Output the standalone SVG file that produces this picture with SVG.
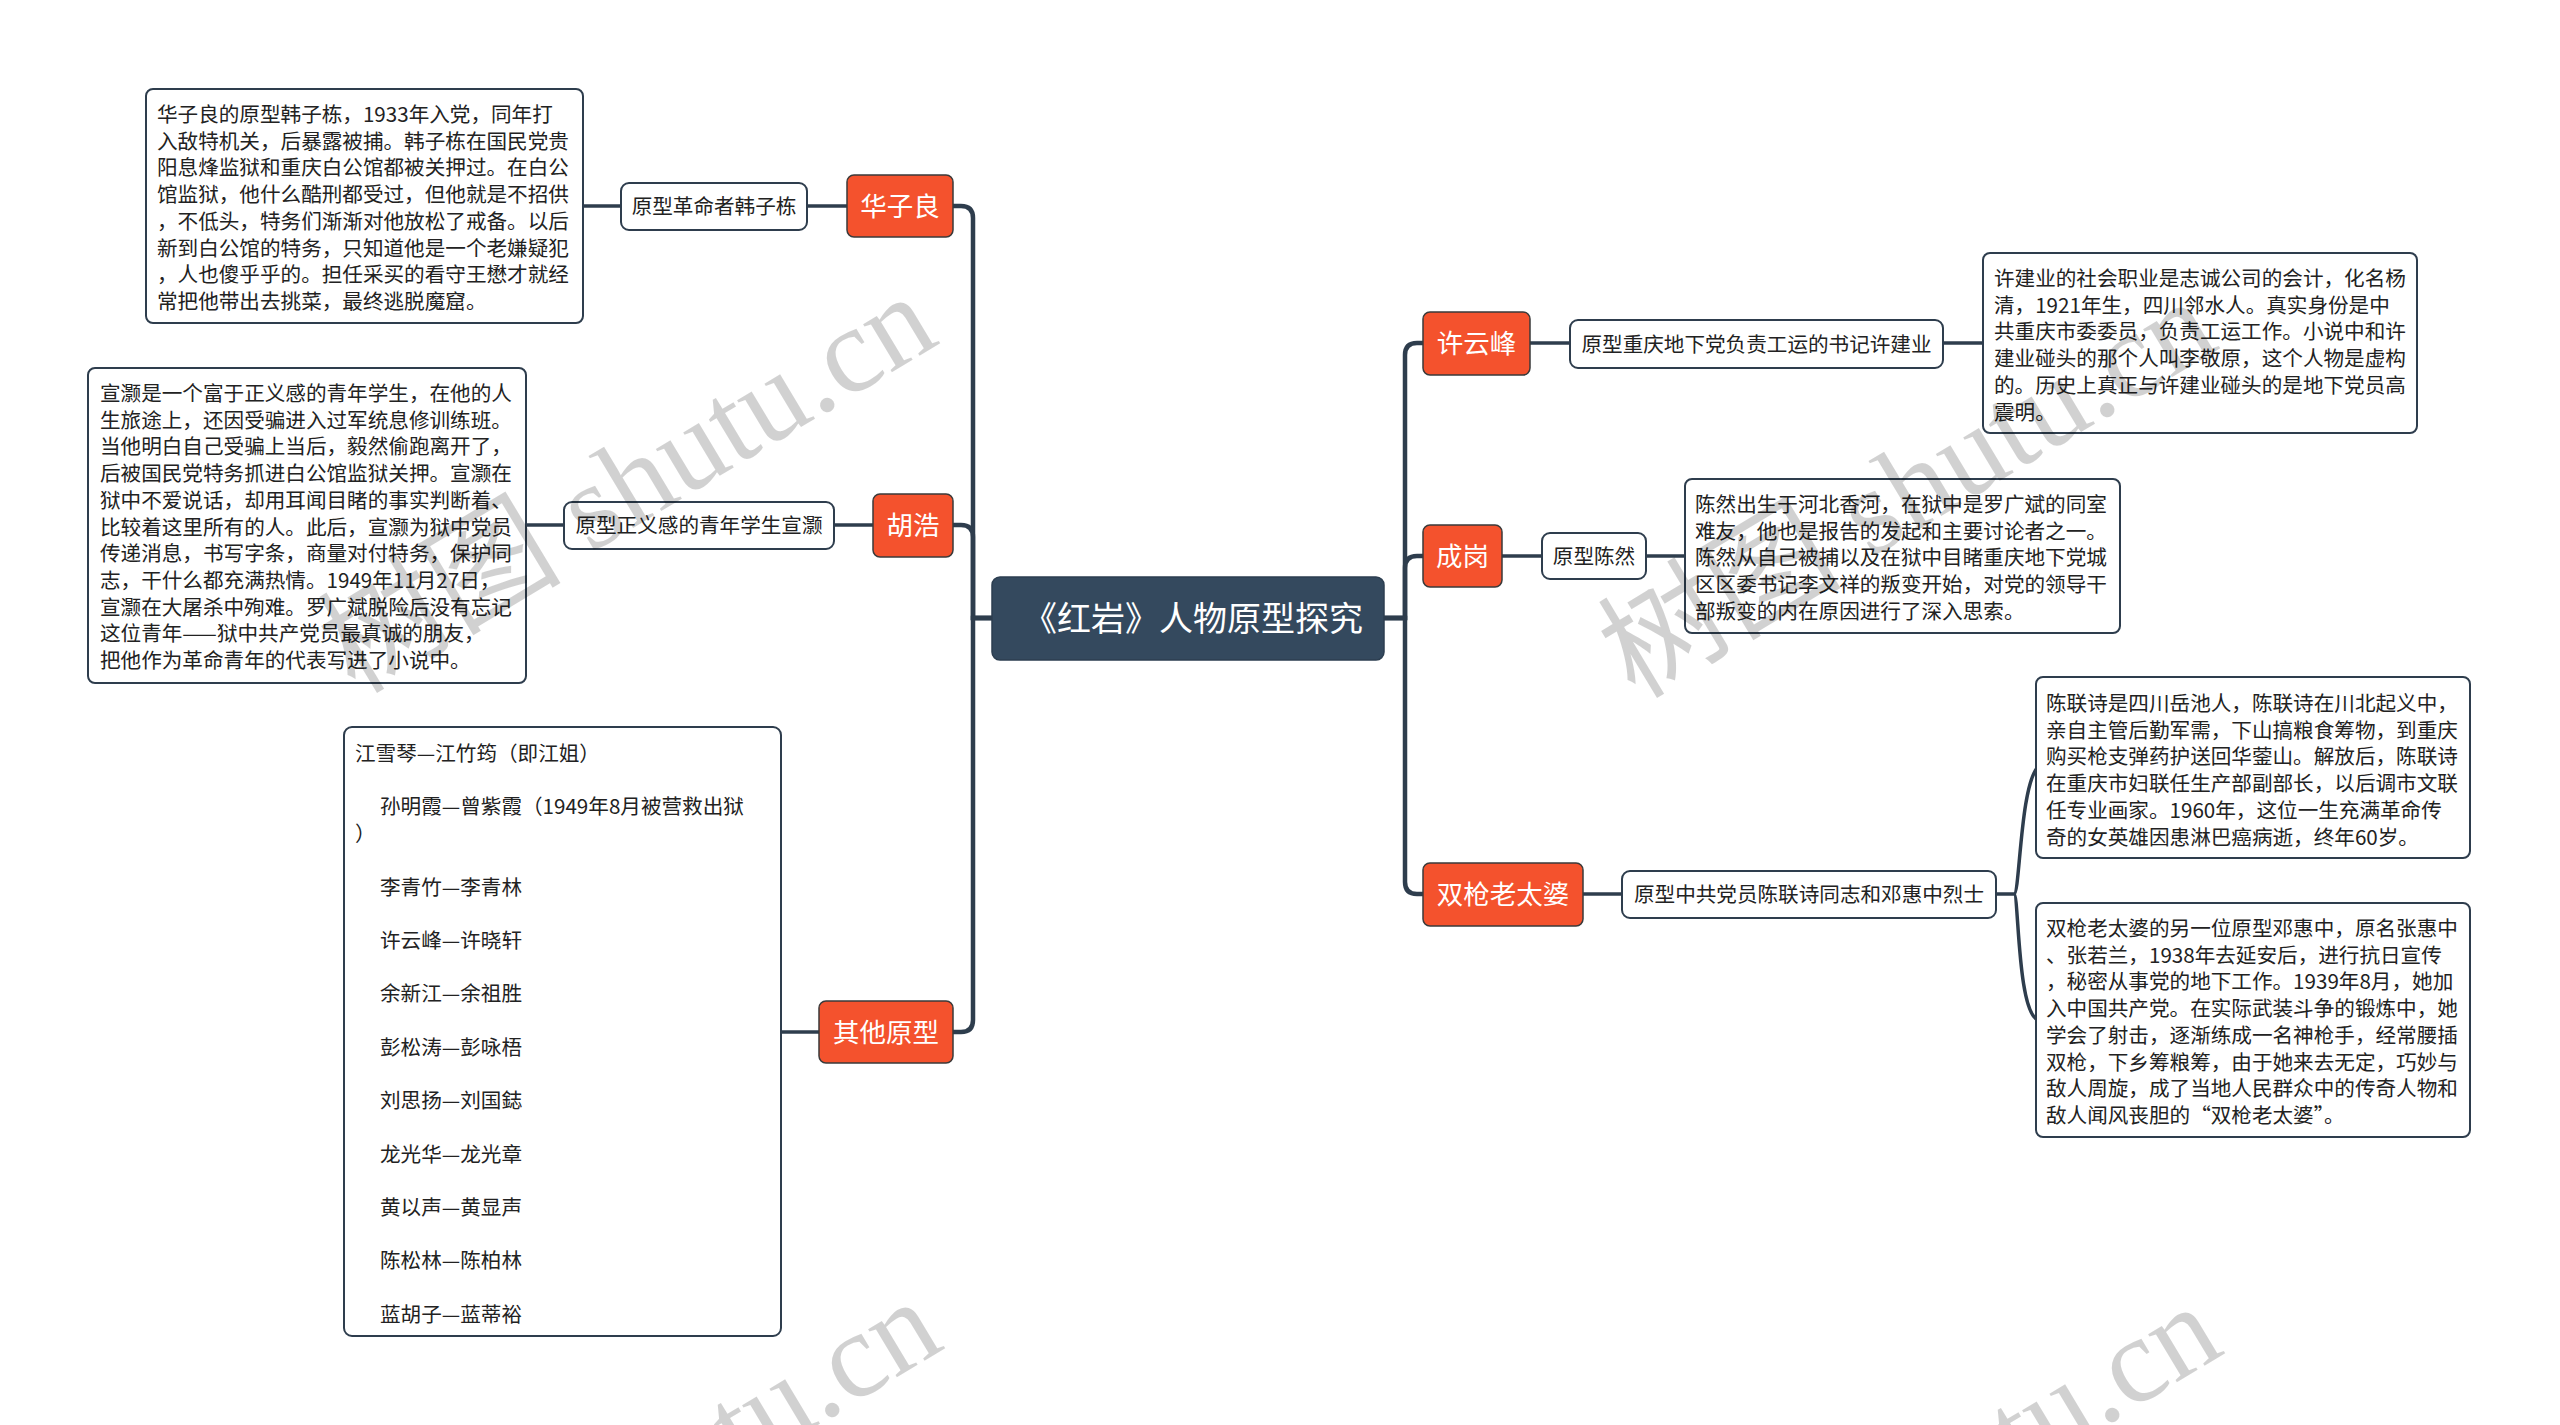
<svg xmlns="http://www.w3.org/2000/svg" width="2560" height="1425" viewBox="0 0 2560 1425">
<style>
text{font-family:"Noto Sans CJK SC","Noto Sans",sans-serif;}
.main{fill:none;stroke:#2e3d4d;stroke-width:4.5;}
.sub{fill:none;stroke:#2e3d4d;stroke-width:3.5;}
.center rect{fill:#34495e;stroke:#2c3e50;stroke-width:1.5;}
.center text{fill:#fff;font-size:34px;}
.topic rect{fill:#f4522d;stroke:#3a3a3a;stroke-width:1.5;}
.topic text{fill:#fff;font-size:26.5px;text-anchor:middle;}
.label rect{fill:#fff;stroke:#2e3d4d;stroke-width:2;}
.label text{fill:#222;font-size:20.6px;text-anchor:middle;}
.note rect{fill:#fff;stroke:#2e3d4d;stroke-width:2;}
.note text{fill:#222;font-size:20.6px;}
.wm text{fill:#000;fill-opacity:0.18;font-size:122px;font-family:"Liberation Serif","Noto Sans CJK SC",serif;}
</style>

<g id="connectors">
  <path class="main" d="M992,618 H973 V218 Q973,206 961,206 H953"/>
  <path class="main" d="M992,618 H973 V537 Q973,525 961,525 H953"/>
  <path class="main" d="M992,618 H973 V1020 Q973,1032 961,1032 H953"/>
  <path class="main" d="M1384,618 H1405 V355 Q1405,343 1417,343 H1423"/>
  <path class="main" d="M1384,618 H1405 V568 Q1405,556 1417,556 H1423"/>
  <path class="main" d="M1384,618 H1405 V882 Q1405,894 1417,894 H1423"/>
  <path class="sub" d="M807,206 H847"/>
  <path class="sub" d="M583,206 H621"/>
  <path class="sub" d="M834,525 H873"/>
  <path class="sub" d="M526,525 H564"/>
  <path class="sub" d="M781,1032 H819"/>
  <path class="sub" d="M1530,343 H1570"/>
  <path class="sub" d="M1943,343 H1983"/>
  <path class="sub" d="M1502,556 H1542"/>
  <path class="sub" d="M1646,556 H1685"/>
  <path class="sub" d="M1583,894 H1622"/>
  <path class="sub" d="M1996,894 H2014 C2020,894 2020,785 2038,767"/>
  <path class="sub" d="M2014,894 C2019,894 2017,1012 2038,1020"/>
</g>

<g id="central" class="center">
  <rect x="992" y="577" width="392" height="83" rx="8"/>
  <text x="1023" y="631">《红岩》人物原型探究</text>
</g>

<g id="node-huaziliang" class="topic">
  <rect x="847" y="175" width="106" height="62" rx="7"/>
  <text x="900" y="216">华子良</text>
</g>
<g id="label-huaziliang" class="label">
  <rect x="621" y="183" width="186" height="47" rx="8"/>
  <text x="714" y="214">原型革命者韩子栋</text>
</g>
<g id="note-huaziliang" class="note">
  <rect x="146" y="89" width="437" height="234" rx="7"/>
  <text x="157" y="122">华子良的原型韩子栋，1933年入党，同年打</text>
  <text x="157" y="148.7">入敌特机关，后暴露被捕。韩子栋在国民党贵</text>
  <text x="157" y="175.4">阳息烽监狱和重庆白公馆都被关押过。在白公</text>
  <text x="157" y="202.1">馆监狱，他什么酷刑都受过，但他就是不招供</text>
  <text x="157" y="228.8">，不低头，特务们渐渐对他放松了戒备。以后</text>
  <text x="157" y="255.5">新到白公馆的特务，只知道他是一个老嫌疑犯</text>
  <text x="157" y="282.2">，人也傻乎乎的。担任采买的看守王懋才就经</text>
  <text x="157" y="308.9">常把他带出去挑菜，最终逃脱魔窟。</text>
</g>

<g id="node-huhao" class="topic">
  <rect x="873" y="494" width="80" height="63" rx="7"/>
  <text x="913" y="535">胡浩</text>
</g>
<g id="label-huhao" class="label">
  <rect x="564" y="502" width="270" height="47" rx="8"/>
  <text x="699" y="533">原型正义感的青年学生宣灏</text>
</g>
<g id="note-huhao" class="note">
  <rect x="88" y="368" width="438" height="315" rx="7"/>
  <text x="100" y="401">宣灏是一个富于正义感的青年学生，在他的人</text>
  <text x="100" y="427.7">生旅途上，还因受骗进入过军统息修训练班。</text>
  <text x="100" y="454.4">当他明白自己受骗上当后，毅然偷跑离开了，</text>
  <text x="100" y="481.1">后被国民党特务抓进白公馆监狱关押。宣灏在</text>
  <text x="100" y="507.8">狱中不爱说话，却用耳闻目睹的事实判断着、</text>
  <text x="100" y="534.5">比较着这里所有的人。此后，宣灏为狱中党员</text>
  <text x="100" y="561.2">传递消息，书写字条，商量对付特务，保护同</text>
  <text x="100" y="587.9">志，干什么都充满热情。1949年11月27日，</text>
  <text x="100" y="614.6">宣灏在大屠杀中殉难。罗广斌脱险后没有忘记</text>
  <text x="100" y="641.3">这位青年——狱中共产党员最真诚的朋友，</text>
  <text x="100" y="668">把他作为革命青年的代表写进了小说中。</text>
</g>

<g id="node-other" class="topic">
  <rect x="819" y="1001" width="134" height="62" rx="7"/>
  <text x="886" y="1042">其他原型</text>
</g>
<g id="note-other" class="note">
  <rect x="344" y="727" width="437" height="609" rx="8"/>
  <text x="355" y="761">江雪琴—江竹筠（即江姐）</text>
  <text x="380" y="814.4">孙明霞—曾紫霞（1949年8月被营救出狱</text>
  <text x="355" y="841.1">）</text>
  <text x="380" y="894.5">李青竹—李青林</text>
  <text x="380" y="947.9">许云峰—许晓轩</text>
  <text x="380" y="1001.3">余新江—余祖胜</text>
  <text x="380" y="1054.7">彭松涛—彭咏梧</text>
  <text x="380" y="1108.1">刘思扬—刘国鋕</text>
  <text x="380" y="1161.5">龙光华—龙光章</text>
  <text x="380" y="1214.9">黄以声—黄显声</text>
  <text x="380" y="1268.3">陈松林—陈柏林</text>
  <text x="380" y="1321.7">蓝胡子—蓝蒂裕</text>
</g>

<g id="node-xuyunfeng" class="topic">
  <rect x="1423" y="312" width="107" height="63" rx="7"/>
  <text x="1476.5" y="353">许云峰</text>
</g>
<g id="label-xuyunfeng" class="label">
  <rect x="1570" y="320" width="373" height="48" rx="8"/>
  <text x="1756.5" y="352">原型重庆地下党负责工运的书记许建业</text>
</g>
<g id="note-xuyunfeng" class="note">
  <rect x="1983" y="253" width="434" height="180" rx="7"/>
  <text x="1994" y="286">许建业的社会职业是志诚公司的会计，化名杨</text>
  <text x="1994" y="312.7">清，1921年生，四川邻水人。真实身份是中</text>
  <text x="1994" y="339.4">共重庆市委委员，负责工运工作。小说中和许</text>
  <text x="1994" y="366.1">建业碰头的那个人叫李敬原，这个人物是虚构</text>
  <text x="1994" y="392.8">的。历史上真正与许建业碰头的是地下党员高</text>
  <text x="1994" y="419.5">震明。</text>
</g>

<g id="node-chenggang" class="topic">
  <rect x="1423" y="525" width="79" height="62" rx="7"/>
  <text x="1462.5" y="566">成岗</text>
</g>
<g id="label-chenggang" class="label">
  <rect x="1542" y="533" width="104" height="46" rx="8"/>
  <text x="1594" y="564">原型陈然</text>
</g>
<g id="note-chenggang" class="note">
  <rect x="1685" y="479" width="435" height="154" rx="7"/>
  <text x="1695" y="512">陈然出生于河北香河，在狱中是罗广斌的同室</text>
  <text x="1695" y="538.7">难友，他也是报告的发起和主要讨论者之一。</text>
  <text x="1695" y="565.4">陈然从自己被捕以及在狱中目睹重庆地下党城</text>
  <text x="1695" y="592.1">区区委书记李文祥的叛变开始，对党的领导干</text>
  <text x="1695" y="618.8">部叛变的内在原因进行了深入思索。</text>
</g>

<g id="node-shuangqiang" class="topic">
  <rect x="1423" y="863" width="160" height="63" rx="7"/>
  <text x="1503" y="904">双枪老太婆</text>
</g>
<g id="label-shuangqiang" class="label">
  <rect x="1622" y="871" width="374" height="47" rx="8"/>
  <text x="1809" y="902">原型中共党员陈联诗同志和邓惠中烈士</text>
</g>
<g id="note-chenlianshi" class="note">
  <rect x="2036" y="677" width="434" height="181" rx="7"/>
  <text x="2046" y="711">陈联诗是四川岳池人，陈联诗在川北起义中，</text>
  <text x="2046" y="737.7">亲自主管后勤军需，下山搞粮食筹物，到重庆</text>
  <text x="2046" y="764.4">购买枪支弹药护送回华蓥山。解放后，陈联诗</text>
  <text x="2046" y="791.1">在重庆市妇联任生产部副部长，以后调市文联</text>
  <text x="2046" y="817.8">任专业画家。1960年，这位一生充满革命传</text>
  <text x="2046" y="844.5">奇的女英雄因患淋巴癌病逝，终年60岁。</text>
</g>
<g id="note-denghuizhong" class="note">
  <rect x="2036" y="903" width="434" height="234" rx="7"/>
  <text x="2046" y="936">双枪老太婆的另一位原型邓惠中，原名张惠中</text>
  <text x="2046" y="962.7">、张若兰，1938年去延安后，进行抗日宣传</text>
  <text x="2046" y="989.4">，秘密从事党的地下工作。1939年8月，她加</text>
  <text x="2046" y="1016.1">入中国共产党。在实际武装斗争的锻炼中，她</text>
  <text x="2046" y="1042.8">学会了射击，逐渐练成一名神枪手，经常腰插</text>
  <text x="2046" y="1069.5">双枪，下乡筹粮筹，由于她来去无定，巧妙与</text>
  <text x="2046" y="1096.2">敌人周旋，成了当地人民群众中的传奇人物和</text>
  <text x="2046" y="1122.9">敌人闻风丧胆的“双枪老太婆”。</text>
</g>

<g class="wm">
  <text transform="translate(355,695) rotate(-31)">树图 shutu.cn</text>
  <text transform="translate(1635,700) rotate(-31)">树图 shutu.cn</text>
  <text transform="translate(360,1700) rotate(-31)">树图 shutu.cn</text>
  <text transform="translate(1640,1705) rotate(-31)">树图 shutu.cn</text>
</g>
</svg>
